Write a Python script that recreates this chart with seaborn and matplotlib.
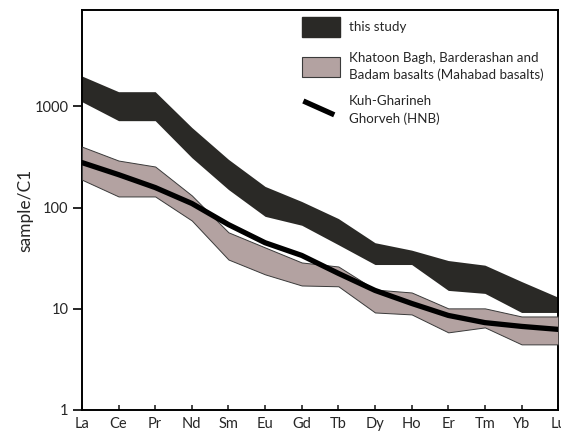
import numpy as np
import pandas as pd
import matplotlib
matplotlib.use("Agg")
import matplotlib.pyplot as plt
import seaborn as sns
from matplotlib.patches import Patch
from matplotlib.lines import Line2D
from matplotlib.legend_handler import HandlerBase

# REE elements (chondrite normalised)
elements = ['La', 'Ce', 'Pr', 'Nd', 'Sm', 'Eu', 'Gd', 'Tb', 'Dy', 'Ho', 'Er', 'Tm', 'Yb', 'Lu']

# this study - envelope
study_upper = [2000, 1400, 1400, 620, 300, 162, 115, 78, 45, 38, 30, 27, 18.6, 13]
study_lower = [1115, 724, 724, 312, 151, 82, 67, 43, 27.4, 27.4, 15.2, 14.2, 9.2, 9.2]

# Mahabad basalts - envelope
mahabad_upper = [401, 292, 255, 132, 57, 40.4, 28.7, 26.2, 15.5, 14.5, 10.1, 10.1, 8.4, 8.4]
mahabad_lower = [189, 129, 129, 74.6, 30.7, 21.9, 17, 16.7, 9.2, 8.8, 5.85, 6.55, 4.45, 4.45]

# Kuh-Gharineh Ghorveh (HNB) - average line
hnb = [279, 212, 158, 110, 68, 45, 33.7, 22.4, 15.2, 11.3, 8.6, 7.3, 6.7, 6.26]

df = pd.DataFrame({'element': elements, 'pos': np.arange(len(elements)), 'hnb': hnb})

sns.set_style("white")
plt.rcParams['font.family'] = ['Lato', 'DejaVu Sans']

dark = '#2a2926'
pink = '#b3a2a1'

fig = plt.figure(figsize=(5.61, 4.32), dpi=100)
ax = fig.add_axes([0.146, 0.051, 0.849, 0.926])

ax.fill_between(df['pos'], study_lower, study_upper, color=dark, lw=0, zorder=2)
ax.fill_between(df['pos'], mahabad_lower, mahabad_upper, facecolor=pink,
                edgecolor='#3a3a3a', lw=0.7, zorder=3)
sns.lineplot(data=df, x='pos', y='hnb', color='black', lw=3.8, ax=ax, zorder=4)

ax.set_yscale('log')
ax.set_ylim(1, 9000)
ax.set_xlim(0, 13)
ax.set_yticks([1, 10, 100, 1000])
ax.set_yticklabels(['1', '10', '100', '1000'])
ax.yaxis.set_minor_locator(matplotlib.ticker.NullLocator())
ax.set_xticks(df['pos'])
ax.set_xticklabels(elements)
ax.tick_params(axis='y', direction='out', length=6.5, width=1.4, labelsize=10.5, pad=3, left=True)
ax.tick_params(axis='x', direction='in', length=3.5, width=1.2, labelsize=10.5, pad=5, bottom=True)
ax.set_xlabel('')
ax.set_ylabel('sample/C1', fontsize=12.5, labelpad=1)

for s in ax.spines.values():
    s.set_visible(True)
    s.set_color('black')
    s.set_linewidth(1.4)


class SlantLine(HandlerBase):
    def create_artists(self, legend, orig_handle, xdescent, ydescent,
                       width, height, fontsize, trans):
        ln = Line2D([-xdescent + 1, -xdescent + width * 0.85],
                    [-ydescent + height * 1.0, -ydescent + height * 0.3],
                    color='black', lw=3.8, solid_capstyle='butt', transform=trans)
        return [ln]


handles = [Patch(facecolor=dark, edgecolor=dark),
           Patch(facecolor=pink, edgecolor='#3a3a3a', lw=0.8),
           Line2D([], [], color='black')]
labels = ['this study',
          'Khatoon Bagh, Barderashan and\nBadam basalts (Mahabad basalts)',
          'Kuh-Gharineh\nGhorveh (HNB)']
leg = ax.legend(handles, labels, loc='upper left', bbox_to_anchor=(0.462, 0.982),
                borderaxespad=0, borderpad=0,
                frameon=False, fontsize=9.6, handlelength=2.85, handleheight=1.9,
                handletextpad=0.65, labelspacing=1.1,
                handler_map={Line2D: SlantLine()})
for t in leg.get_texts():
    t.set_linespacing(1.45)

fig.savefig('out.png', dpi=100)
